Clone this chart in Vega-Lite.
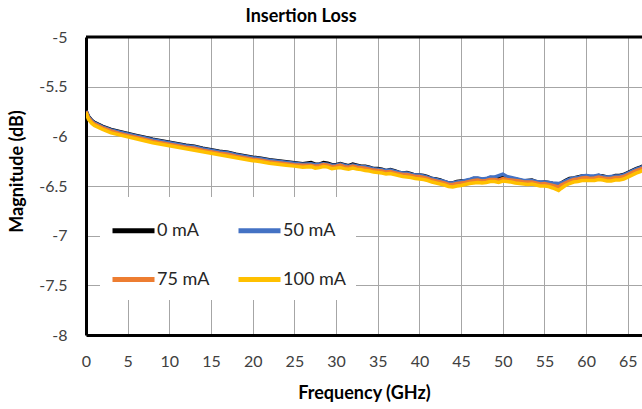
{
  "$schema": "https://vega.github.io/schema/vega-lite/v6.json",
  "autosize": {"type": "none"},
  "padding": {"left": 86, "top": 37, "right": 0, "bottom": 74},
  "width": 556,
  "height": 298,
  "background": "white",
  "config": {
    "font": "Lato",
    "view": {"stroke": null},
    "axis": {
      "grid": true,
      "gridColor": "#a6a6a6",
      "gridWidth": 1,
      "ticks": false,
      "domainColor": "black",
      "domainWidth": 3,
      "labelFont": "Lato",
      "labelFontSize": 16,
      "labelColor": "#404040",
      "titleFont": "Lato",
      "titleFontSize": 18,
      "titleFontWeight": "bold",
      "titleColor": "black"
    }
  },
  "title": {
    "text": "Insertion Loss",
    "font": "Lato",
    "fontSize": 18,
    "fontWeight": "bold",
    "color": "black",
    "frame": "group",
    "anchor": "middle",
    "dx": -63,
    "offset": 3
  },
  "layer": [
    {
      "data": {
        "values": [
          {"f": 0, "s": "0 mA", "v": -5.74}, {"f": 0.3, "s": "0 mA", "v": -5.8}, {"f": 0.7, "s": "0 mA", "v": -5.84}, {"f": 1, "s": "0 mA", "v": -5.86},
          {"f": 2, "s": "0 mA", "v": -5.9}, {"f": 3, "s": "0 mA", "v": -5.93}, {"f": 4, "s": "0 mA", "v": -5.95}, {"f": 5, "s": "0 mA", "v": -5.97},
          {"f": 6, "s": "0 mA", "v": -5.99}, {"f": 7, "s": "0 mA", "v": -6.01}, {"f": 8, "s": "0 mA", "v": -6.03}, {"f": 9, "s": "0 mA", "v": -6.045},
          {"f": 10, "s": "0 mA", "v": -6.06}, {"f": 11, "s": "0 mA", "v": -6.075}, {"f": 12, "s": "0 mA", "v": -6.09}, {"f": 13, "s": "0 mA", "v": -6.1},
          {"f": 14, "s": "0 mA", "v": -6.12}, {"f": 15, "s": "0 mA", "v": -6.135}, {"f": 16, "s": "0 mA", "v": -6.15}, {"f": 17, "s": "0 mA", "v": -6.16},
          {"f": 18, "s": "0 mA", "v": -6.18}, {"f": 19, "s": "0 mA", "v": -6.195}, {"f": 20, "s": "0 mA", "v": -6.21}, {"f": 21, "s": "0 mA", "v": -6.22},
          {"f": 22, "s": "0 mA", "v": -6.235}, {"f": 23, "s": "0 mA", "v": -6.245}, {"f": 24, "s": "0 mA", "v": -6.255}, {"f": 25, "s": "0 mA", "v": -6.265},
          {"f": 26, "s": "0 mA", "v": -6.275}, {"f": 27, "s": "0 mA", "v": -6.265}, {"f": 28, "s": "0 mA", "v": -6.28}, {"f": 29, "s": "0 mA", "v": -6.27},
          {"f": 30, "s": "0 mA", "v": -6.285}, {"f": 31, "s": "0 mA", "v": -6.285}, {"f": 32, "s": "0 mA", "v": -6.28}, {"f": 33, "s": "0 mA", "v": -6.3},
          {"f": 34, "s": "0 mA", "v": -6.31}, {"f": 35, "s": "0 mA", "v": -6.325}, {"f": 36, "s": "0 mA", "v": -6.345}, {"f": 37, "s": "0 mA", "v": -6.345},
          {"f": 38, "s": "0 mA", "v": -6.37}, {"f": 39, "s": "0 mA", "v": -6.375}, {"f": 40, "s": "0 mA", "v": -6.39}, {"f": 41, "s": "0 mA", "v": -6.405},
          {"f": 42, "s": "0 mA", "v": -6.43}, {"f": 43, "s": "0 mA", "v": -6.455}, {"f": 44, "s": "0 mA", "v": -6.47}, {"f": 45, "s": "0 mA", "v": -6.45},
          {"f": 46, "s": "0 mA", "v": -6.44}, {"f": 47, "s": "0 mA", "v": -6.425}, {"f": 48, "s": "0 mA", "v": -6.43}, {"f": 49, "s": "0 mA", "v": -6.42},
          {"f": 50, "s": "0 mA", "v": -6.41}, {"f": 51, "s": "0 mA", "v": -6.425}, {"f": 52, "s": "0 mA", "v": -6.44}, {"f": 53, "s": "0 mA", "v": -6.445},
          {"f": 54, "s": "0 mA", "v": -6.455}, {"f": 55, "s": "0 mA", "v": -6.46}, {"f": 56, "s": "0 mA", "v": -6.475}, {"f": 56.7, "s": "0 mA", "v": -6.48},
          {"f": 57, "s": "0 mA", "v": -6.47}, {"f": 58, "s": "0 mA", "v": -6.425}, {"f": 59, "s": "0 mA", "v": -6.41}, {"f": 60, "s": "0 mA", "v": -6.4},
          {"f": 61, "s": "0 mA", "v": -6.405}, {"f": 62, "s": "0 mA", "v": -6.4}, {"f": 63, "s": "0 mA", "v": -6.41}, {"f": 64, "s": "0 mA", "v": -6.395},
          {"f": 65, "s": "0 mA", "v": -6.365}, {"f": 66, "s": "0 mA", "v": -6.325}, {"f": 67, "s": "0 mA", "v": -6.29},
          {"f": 27.5, "s": "0 mA", "v": -6.28}, {"f": 28.5, "s": "0 mA", "v": -6.265}, {"f": 29.5, "s": "0 mA", "v": -6.285}, {"f": 30.5, "s": "0 mA", "v": -6.275},
          {"f": 31.5, "s": "0 mA", "v": -6.295}, {"f": 32.5, "s": "0 mA", "v": -6.29}, {"f": 33.5, "s": "0 mA", "v": -6.3}, {"f": 34.5, "s": "0 mA", "v": -6.325},
          {"f": 35.5, "s": "0 mA", "v": -6.33}, {"f": 36.5, "s": "0 mA", "v": -6.335}, {"f": 37.5, "s": "0 mA", "v": -6.36}, {"f": 38.5, "s": "0 mA", "v": -6.365},
          {"f": 39.5, "s": "0 mA", "v": -6.39}, {"f": 40.5, "s": "0 mA", "v": -6.395}, {"f": 41.5, "s": "0 mA", "v": -6.425}, {"f": 42.5, "s": "0 mA", "v": -6.44},
          {"f": 43.5, "s": "0 mA", "v": -6.47}, {"f": 44.5, "s": "0 mA", "v": -6.455}, {"f": 45.5, "s": "0 mA", "v": -6.45}, {"f": 46.5, "s": "0 mA", "v": -6.425},
          {"f": 47.5, "s": "0 mA", "v": -6.435}, {"f": 48.5, "s": "0 mA", "v": -6.415}, {"f": 49.5, "s": "0 mA", "v": -6.425}, {"f": 50.5, "s": "0 mA", "v": -6.42},
          {"f": 51.5, "s": "0 mA", "v": -6.43}, {"f": 52.5, "s": "0 mA", "v": -6.45}, {"f": 53.5, "s": "0 mA", "v": -6.44}, {"f": 54.5, "s": "0 mA", "v": -6.465},
          {"f": 55.5, "s": "0 mA", "v": -6.465}, {"f": 57.5, "s": "0 mA", "v": -6.445}, {"f": 58.5, "s": "0 mA", "v": -6.42}, {"f": 59.5, "s": "0 mA", "v": -6.4},
          {"f": 60.5, "s": "0 mA", "v": -6.41}, {"f": 61.5, "s": "0 mA", "v": -6.395}, {"f": 62.5, "s": "0 mA", "v": -6.41}, {"f": 63.5, "s": "0 mA", "v": -6.395},
          {"f": 64.5, "s": "0 mA", "v": -6.385}, {"f": 65.5, "s": "0 mA", "v": -6.345}, {"f": 66.5, "s": "0 mA", "v": -6.31},

          {"f": 0, "s": "50 mA", "v": -5.745}, {"f": 0.3, "s": "50 mA", "v": -5.805}, {"f": 0.7, "s": "50 mA", "v": -5.845}, {"f": 1, "s": "50 mA", "v": -5.865},
          {"f": 2, "s": "50 mA", "v": -5.905}, {"f": 3, "s": "50 mA", "v": -5.935}, {"f": 4, "s": "50 mA", "v": -5.955}, {"f": 5, "s": "50 mA", "v": -5.975},
          {"f": 6, "s": "50 mA", "v": -5.995}, {"f": 7, "s": "50 mA", "v": -6.015}, {"f": 8, "s": "50 mA", "v": -6.035}, {"f": 9, "s": "50 mA", "v": -6.05},
          {"f": 10, "s": "50 mA", "v": -6.065}, {"f": 11, "s": "50 mA", "v": -6.08}, {"f": 12, "s": "50 mA", "v": -6.095}, {"f": 13, "s": "50 mA", "v": -6.105},
          {"f": 14, "s": "50 mA", "v": -6.125}, {"f": 15, "s": "50 mA", "v": -6.14}, {"f": 16, "s": "50 mA", "v": -6.155}, {"f": 17, "s": "50 mA", "v": -6.165},
          {"f": 18, "s": "50 mA", "v": -6.185}, {"f": 19, "s": "50 mA", "v": -6.2}, {"f": 20, "s": "50 mA", "v": -6.215}, {"f": 21, "s": "50 mA", "v": -6.225},
          {"f": 22, "s": "50 mA", "v": -6.24}, {"f": 23, "s": "50 mA", "v": -6.25}, {"f": 24, "s": "50 mA", "v": -6.26}, {"f": 25, "s": "50 mA", "v": -6.27},
          {"f": 26, "s": "50 mA", "v": -6.28}, {"f": 27, "s": "50 mA", "v": -6.275}, {"f": 28, "s": "50 mA", "v": -6.28}, {"f": 29, "s": "50 mA", "v": -6.28},
          {"f": 30, "s": "50 mA", "v": -6.29}, {"f": 31, "s": "50 mA", "v": -6.29}, {"f": 32, "s": "50 mA", "v": -6.29}, {"f": 33, "s": "50 mA", "v": -6.305},
          {"f": 34, "s": "50 mA", "v": -6.315}, {"f": 35, "s": "50 mA", "v": -6.33}, {"f": 36, "s": "50 mA", "v": -6.345}, {"f": 37, "s": "50 mA", "v": -6.35},
          {"f": 38, "s": "50 mA", "v": -6.37}, {"f": 39, "s": "50 mA", "v": -6.38}, {"f": 40, "s": "50 mA", "v": -6.39}, {"f": 41, "s": "50 mA", "v": -6.41},
          {"f": 42, "s": "50 mA", "v": -6.435}, {"f": 43, "s": "50 mA", "v": -6.455}, {"f": 44, "s": "50 mA", "v": -6.47}, {"f": 45, "s": "50 mA", "v": -6.455},
          {"f": 46, "s": "50 mA", "v": -6.435}, {"f": 47, "s": "50 mA", "v": -6.42}, {"f": 48, "s": "50 mA", "v": -6.425}, {"f": 49, "s": "50 mA", "v": -6.41},
          {"f": 50, "s": "50 mA", "v": -6.38}, {"f": 51, "s": "50 mA", "v": -6.415}, {"f": 52, "s": "50 mA", "v": -6.435}, {"f": 53, "s": "50 mA", "v": -6.445},
          {"f": 54, "s": "50 mA", "v": -6.455}, {"f": 55, "s": "50 mA", "v": -6.46}, {"f": 56, "s": "50 mA", "v": -6.47}, {"f": 56.7, "s": "50 mA", "v": -6.475},
          {"f": 57, "s": "50 mA", "v": -6.47}, {"f": 58, "s": "50 mA", "v": -6.43}, {"f": 59, "s": "50 mA", "v": -6.415}, {"f": 60, "s": "50 mA", "v": -6.395},
          {"f": 61, "s": "50 mA", "v": -6.4}, {"f": 62, "s": "50 mA", "v": -6.405}, {"f": 63, "s": "50 mA", "v": -6.405}, {"f": 64, "s": "50 mA", "v": -6.4},
          {"f": 65, "s": "50 mA", "v": -6.37}, {"f": 66, "s": "50 mA", "v": -6.33}, {"f": 67, "s": "50 mA", "v": -6.295},
          {"f": 27.5, "s": "50 mA", "v": -6.285}, {"f": 28.5, "s": "50 mA", "v": -6.275}, {"f": 29.5, "s": "50 mA", "v": -6.29}, {"f": 30.5, "s": "50 mA", "v": -6.28},
          {"f": 31.5, "s": "50 mA", "v": -6.3}, {"f": 32.5, "s": "50 mA", "v": -6.295}, {"f": 33.5, "s": "50 mA", "v": -6.305}, {"f": 34.5, "s": "50 mA", "v": -6.325},
          {"f": 35.5, "s": "50 mA", "v": -6.335}, {"f": 36.5, "s": "50 mA", "v": -6.34}, {"f": 37.5, "s": "50 mA", "v": -6.36}, {"f": 38.5, "s": "50 mA", "v": -6.37},
          {"f": 39.5, "s": "50 mA", "v": -6.39}, {"f": 40.5, "s": "50 mA", "v": -6.4}, {"f": 41.5, "s": "50 mA", "v": -6.425}, {"f": 42.5, "s": "50 mA", "v": -6.445},
          {"f": 43.5, "s": "50 mA", "v": -6.47}, {"f": 44.5, "s": "50 mA", "v": -6.46}, {"f": 45.5, "s": "50 mA", "v": -6.445}, {"f": 46.5, "s": "50 mA", "v": -6.42},
          {"f": 47.5, "s": "50 mA", "v": -6.43}, {"f": 48.5, "s": "50 mA", "v": -6.41}, {"f": 49.5, "s": "50 mA", "v": -6.395}, {"f": 50.5, "s": "50 mA", "v": -6.405},
          {"f": 51.5, "s": "50 mA", "v": -6.425}, {"f": 52.5, "s": "50 mA", "v": -6.445}, {"f": 53.5, "s": "50 mA", "v": -6.445}, {"f": 54.5, "s": "50 mA", "v": -6.46},
          {"f": 55.5, "s": "50 mA", "v": -6.465}, {"f": 57.5, "s": "50 mA", "v": -6.45}, {"f": 58.5, "s": "50 mA", "v": -6.42}, {"f": 59.5, "s": "50 mA", "v": -6.4},
          {"f": 60.5, "s": "50 mA", "v": -6.4}, {"f": 61.5, "s": "50 mA", "v": -6.39}, {"f": 62.5, "s": "50 mA", "v": -6.41}, {"f": 63.5, "s": "50 mA", "v": -6.4},
          {"f": 64.5, "s": "50 mA", "v": -6.39}, {"f": 65.5, "s": "50 mA", "v": -6.35}, {"f": 66.5, "s": "50 mA", "v": -6.315},

          {"f": 0, "s": "75 mA", "v": -5.75}, {"f": 0.3, "s": "75 mA", "v": -5.815}, {"f": 0.7, "s": "75 mA", "v": -5.855}, {"f": 1, "s": "75 mA", "v": -5.875},
          {"f": 2, "s": "75 mA", "v": -5.915}, {"f": 3, "s": "75 mA", "v": -5.945}, {"f": 4, "s": "75 mA", "v": -5.97}, {"f": 5, "s": "75 mA", "v": -5.99},
          {"f": 6, "s": "75 mA", "v": -6.01}, {"f": 7, "s": "75 mA", "v": -6.03}, {"f": 8, "s": "75 mA", "v": -6.05}, {"f": 9, "s": "75 mA", "v": -6.065},
          {"f": 10, "s": "75 mA", "v": -6.08}, {"f": 11, "s": "75 mA", "v": -6.095}, {"f": 12, "s": "75 mA", "v": -6.11}, {"f": 13, "s": "75 mA", "v": -6.12},
          {"f": 14, "s": "75 mA", "v": -6.14}, {"f": 15, "s": "75 mA", "v": -6.155}, {"f": 16, "s": "75 mA", "v": -6.17}, {"f": 17, "s": "75 mA", "v": -6.18},
          {"f": 18, "s": "75 mA", "v": -6.2}, {"f": 19, "s": "75 mA", "v": -6.215}, {"f": 20, "s": "75 mA", "v": -6.23}, {"f": 21, "s": "75 mA", "v": -6.24},
          {"f": 22, "s": "75 mA", "v": -6.255}, {"f": 23, "s": "75 mA", "v": -6.265}, {"f": 24, "s": "75 mA", "v": -6.275}, {"f": 25, "s": "75 mA", "v": -6.285},
          {"f": 26, "s": "75 mA", "v": -6.29}, {"f": 27, "s": "75 mA", "v": -6.29}, {"f": 28, "s": "75 mA", "v": -6.295}, {"f": 29, "s": "75 mA", "v": -6.29},
          {"f": 30, "s": "75 mA", "v": -6.3}, {"f": 31, "s": "75 mA", "v": -6.305}, {"f": 32, "s": "75 mA", "v": -6.3}, {"f": 33, "s": "75 mA", "v": -6.315},
          {"f": 34, "s": "75 mA", "v": -6.33}, {"f": 35, "s": "75 mA", "v": -6.345}, {"f": 36, "s": "75 mA", "v": -6.36}, {"f": 37, "s": "75 mA", "v": -6.365},
          {"f": 38, "s": "75 mA", "v": -6.385}, {"f": 39, "s": "75 mA", "v": -6.395}, {"f": 40, "s": "75 mA", "v": -6.405}, {"f": 41, "s": "75 mA", "v": -6.425},
          {"f": 42, "s": "75 mA", "v": -6.45}, {"f": 43, "s": "75 mA", "v": -6.47}, {"f": 44, "s": "75 mA", "v": -6.485}, {"f": 45, "s": "75 mA", "v": -6.47},
          {"f": 46, "s": "75 mA", "v": -6.455}, {"f": 47, "s": "75 mA", "v": -6.44}, {"f": 48, "s": "75 mA", "v": -6.445}, {"f": 49, "s": "75 mA", "v": -6.435},
          {"f": 50, "s": "75 mA", "v": -6.425}, {"f": 51, "s": "75 mA", "v": -6.44}, {"f": 52, "s": "75 mA", "v": -6.45}, {"f": 53, "s": "75 mA", "v": -6.46},
          {"f": 54, "s": "75 mA", "v": -6.47}, {"f": 55, "s": "75 mA", "v": -6.475}, {"f": 56, "s": "75 mA", "v": -6.495}, {"f": 56.7, "s": "75 mA", "v": -6.51},
          {"f": 57, "s": "75 mA", "v": -6.49}, {"f": 58, "s": "75 mA", "v": -6.45}, {"f": 59, "s": "75 mA", "v": -6.43}, {"f": 60, "s": "75 mA", "v": -6.415},
          {"f": 61, "s": "75 mA", "v": -6.42}, {"f": 62, "s": "75 mA", "v": -6.42}, {"f": 63, "s": "75 mA", "v": -6.425}, {"f": 64, "s": "75 mA", "v": -6.415},
          {"f": 65, "s": "75 mA", "v": -6.385}, {"f": 66, "s": "75 mA", "v": -6.345}, {"f": 67, "s": "75 mA", "v": -6.31},
          {"f": 27.5, "s": "75 mA", "v": -6.3}, {"f": 28.5, "s": "75 mA", "v": -6.285}, {"f": 29.5, "s": "75 mA", "v": -6.305}, {"f": 30.5, "s": "75 mA", "v": -6.29},
          {"f": 31.5, "s": "75 mA", "v": -6.31}, {"f": 32.5, "s": "75 mA", "v": -6.31}, {"f": 33.5, "s": "75 mA", "v": -6.32}, {"f": 34.5, "s": "75 mA", "v": -6.34},
          {"f": 35.5, "s": "75 mA", "v": -6.35}, {"f": 36.5, "s": "75 mA", "v": -6.355}, {"f": 37.5, "s": "75 mA", "v": -6.375}, {"f": 38.5, "s": "75 mA", "v": -6.385},
          {"f": 39.5, "s": "75 mA", "v": -6.405}, {"f": 40.5, "s": "75 mA", "v": -6.415}, {"f": 41.5, "s": "75 mA", "v": -6.44}, {"f": 42.5, "s": "75 mA", "v": -6.46},
          {"f": 43.5, "s": "75 mA", "v": -6.485}, {"f": 44.5, "s": "75 mA", "v": -6.475}, {"f": 45.5, "s": "75 mA", "v": -6.465}, {"f": 46.5, "s": "75 mA", "v": -6.445},
          {"f": 47.5, "s": "75 mA", "v": -6.45}, {"f": 48.5, "s": "75 mA", "v": -6.435}, {"f": 49.5, "s": "75 mA", "v": -6.44}, {"f": 50.5, "s": "75 mA", "v": -6.435},
          {"f": 51.5, "s": "75 mA", "v": -6.445}, {"f": 52.5, "s": "75 mA", "v": -6.46}, {"f": 53.5, "s": "75 mA", "v": -6.46}, {"f": 54.5, "s": "75 mA", "v": -6.48},
          {"f": 55.5, "s": "75 mA", "v": -6.485}, {"f": 57.5, "s": "75 mA", "v": -6.47}, {"f": 58.5, "s": "75 mA", "v": -6.435}, {"f": 59.5, "s": "75 mA", "v": -6.42},
          {"f": 60.5, "s": "75 mA", "v": -6.425}, {"f": 61.5, "s": "75 mA", "v": -6.41}, {"f": 62.5, "s": "75 mA", "v": -6.425}, {"f": 63.5, "s": "75 mA", "v": -6.415},
          {"f": 64.5, "s": "75 mA", "v": -6.405}, {"f": 65.5, "s": "75 mA", "v": -6.365}, {"f": 66.5, "s": "75 mA", "v": -6.33},

          {"f": 0, "s": "100 mA", "v": -5.76}, {"f": 0.3, "s": "100 mA", "v": -5.83}, {"f": 0.7, "s": "100 mA", "v": -5.87}, {"f": 1, "s": "100 mA", "v": -5.89},
          {"f": 2, "s": "100 mA", "v": -5.93}, {"f": 3, "s": "100 mA", "v": -5.965}, {"f": 4, "s": "100 mA", "v": -5.985}, {"f": 5, "s": "100 mA", "v": -6.005},
          {"f": 6, "s": "100 mA", "v": -6.025}, {"f": 7, "s": "100 mA", "v": -6.045}, {"f": 8, "s": "100 mA", "v": -6.065}, {"f": 9, "s": "100 mA", "v": -6.08},
          {"f": 10, "s": "100 mA", "v": -6.095}, {"f": 11, "s": "100 mA", "v": -6.11}, {"f": 12, "s": "100 mA", "v": -6.125}, {"f": 13, "s": "100 mA", "v": -6.14},
          {"f": 14, "s": "100 mA", "v": -6.155}, {"f": 15, "s": "100 mA", "v": -6.17}, {"f": 16, "s": "100 mA", "v": -6.185}, {"f": 17, "s": "100 mA", "v": -6.2},
          {"f": 18, "s": "100 mA", "v": -6.215}, {"f": 19, "s": "100 mA", "v": -6.23}, {"f": 20, "s": "100 mA", "v": -6.245}, {"f": 21, "s": "100 mA", "v": -6.255},
          {"f": 22, "s": "100 mA", "v": -6.27}, {"f": 23, "s": "100 mA", "v": -6.28}, {"f": 24, "s": "100 mA", "v": -6.29}, {"f": 25, "s": "100 mA", "v": -6.3},
          {"f": 26, "s": "100 mA", "v": -6.31}, {"f": 27, "s": "100 mA", "v": -6.305}, {"f": 28, "s": "100 mA", "v": -6.315}, {"f": 29, "s": "100 mA", "v": -6.31},
          {"f": 30, "s": "100 mA", "v": -6.32}, {"f": 31, "s": "100 mA", "v": -6.325}, {"f": 32, "s": "100 mA", "v": -6.32}, {"f": 33, "s": "100 mA", "v": -6.335},
          {"f": 34, "s": "100 mA", "v": -6.35}, {"f": 35, "s": "100 mA", "v": -6.365}, {"f": 36, "s": "100 mA", "v": -6.38}, {"f": 37, "s": "100 mA", "v": -6.385},
          {"f": 38, "s": "100 mA", "v": -6.405}, {"f": 39, "s": "100 mA", "v": -6.415}, {"f": 40, "s": "100 mA", "v": -6.43}, {"f": 41, "s": "100 mA", "v": -6.445},
          {"f": 42, "s": "100 mA", "v": -6.47}, {"f": 43, "s": "100 mA", "v": -6.49}, {"f": 44, "s": "100 mA", "v": -6.51}, {"f": 45, "s": "100 mA", "v": -6.495},
          {"f": 46, "s": "100 mA", "v": -6.475}, {"f": 47, "s": "100 mA", "v": -6.465}, {"f": 48, "s": "100 mA", "v": -6.465}, {"f": 49, "s": "100 mA", "v": -6.455},
          {"f": 50, "s": "100 mA", "v": -6.45}, {"f": 51, "s": "100 mA", "v": -6.46}, {"f": 52, "s": "100 mA", "v": -6.475}, {"f": 53, "s": "100 mA", "v": -6.485},
          {"f": 54, "s": "100 mA", "v": -6.49}, {"f": 55, "s": "100 mA", "v": -6.5}, {"f": 56, "s": "100 mA", "v": -6.52}, {"f": 56.7, "s": "100 mA", "v": -6.545},
          {"f": 57, "s": "100 mA", "v": -6.525}, {"f": 58, "s": "100 mA", "v": -6.475}, {"f": 59, "s": "100 mA", "v": -6.455}, {"f": 60, "s": "100 mA", "v": -6.445},
          {"f": 61, "s": "100 mA", "v": -6.445}, {"f": 62, "s": "100 mA", "v": -6.44}, {"f": 63, "s": "100 mA", "v": -6.45}, {"f": 64, "s": "100 mA", "v": -6.44},
          {"f": 65, "s": "100 mA", "v": -6.41}, {"f": 66, "s": "100 mA", "v": -6.37}, {"f": 67, "s": "100 mA", "v": -6.335},
          {"f": 27.5, "s": "100 mA", "v": -6.32}, {"f": 28.5, "s": "100 mA", "v": -6.305}, {"f": 29.5, "s": "100 mA", "v": -6.325}, {"f": 30.5, "s": "100 mA", "v": -6.315},
          {"f": 31.5, "s": "100 mA", "v": -6.33}, {"f": 32.5, "s": "100 mA", "v": -6.33}, {"f": 33.5, "s": "100 mA", "v": -6.345}, {"f": 34.5, "s": "100 mA", "v": -6.36},
          {"f": 35.5, "s": "100 mA", "v": -6.37}, {"f": 36.5, "s": "100 mA", "v": -6.375}, {"f": 37.5, "s": "100 mA", "v": -6.395}, {"f": 38.5, "s": "100 mA", "v": -6.41},
          {"f": 39.5, "s": "100 mA", "v": -6.425}, {"f": 40.5, "s": "100 mA", "v": -6.435}, {"f": 41.5, "s": "100 mA", "v": -6.46}, {"f": 42.5, "s": "100 mA", "v": -6.48},
          {"f": 43.5, "s": "100 mA", "v": -6.505}, {"f": 44.5, "s": "100 mA", "v": -6.5}, {"f": 45.5, "s": "100 mA", "v": -6.485}, {"f": 46.5, "s": "100 mA", "v": -6.47},
          {"f": 47.5, "s": "100 mA", "v": -6.47}, {"f": 48.5, "s": "100 mA", "v": -6.455}, {"f": 49.5, "s": "100 mA", "v": -6.465}, {"f": 50.5, "s": "100 mA", "v": -6.455},
          {"f": 51.5, "s": "100 mA", "v": -6.47}, {"f": 52.5, "s": "100 mA", "v": -6.48}, {"f": 53.5, "s": "100 mA", "v": -6.48}, {"f": 54.5, "s": "100 mA", "v": -6.5},
          {"f": 55.5, "s": "100 mA", "v": -6.505}, {"f": 57.5, "s": "100 mA", "v": -6.495}, {"f": 58.5, "s": "100 mA", "v": -6.46}, {"f": 59.5, "s": "100 mA", "v": -6.445},
          {"f": 60.5, "s": "100 mA", "v": -6.445}, {"f": 61.5, "s": "100 mA", "v": -6.435}, {"f": 62.5, "s": "100 mA", "v": -6.45}, {"f": 63.5, "s": "100 mA", "v": -6.44},
          {"f": 64.5, "s": "100 mA", "v": -6.43}, {"f": 65.5, "s": "100 mA", "v": -6.39}, {"f": 66.5, "s": "100 mA", "v": -6.355}
        ]
      },
      "mark": {"type": "line", "strokeWidth": 3.5, "clip": true},
      "encoding": {
        "x": {
          "field": "f",
          "type": "quantitative",
          "scale": {"domain": [0, 66.7], "nice": false},
          "axis": {
            "title": "Frequency (GHz)",
            "values": [0, 5, 10, 15, 20, 25, 30, 35, 40, 45, 50, 55, 60, 65],
            "labelPadding": 18,
            "titlePadding": 15,
            "labelFlush": false
          }
        },
        "y": {
          "field": "v",
          "type": "quantitative",
          "scale": {"domain": [-8, -5], "nice": false},
          "axis": {
            "title": "Magnitude (dB)",
            "values": [-8, -7.5, -7, -6.5, -6, -5.5, -5],
            "labelExpr": "toString(datum.value)",
            "labelPadding": 19,
            "titlePadding": 12,
            "titleY": 134,
            "labelFlush": false
          }
        },
        "color": {
          "field": "s",
          "type": "nominal",
          "sort": ["0 mA", "50 mA", "75 mA", "100 mA"],
          "scale": {
            "domain": ["0 mA", "50 mA", "75 mA", "100 mA"],
            "range": ["#000000", "#4472C4", "#ED7D31", "#FFC000"]
          },
          "legend": {
            "title": null,
            "orient": "none",
            "legendX": 14,
            "legendY": 160,
            "direction": "horizontal",
            "columns": 2,
            "symbolType": "stroke",
            "symbolSize": 1764,
            "symbolStrokeWidth": 5,
            "labelFont": "Lato",
            "labelFontSize": 18,
            "labelColor": "#262626",
            "labelOffset": 0,
            "columnPadding": 18,
            "rowPadding": 15,
            "fillColor": "white",
            "padding": 10
          }
        }
      }
    },
    {
      "data": {"values": [{}]},
      "mark": {"type": "rule", "color": "black", "strokeWidth": 3},
      "encoding": {"y": {"datum": -5}}
    }
  ]
}
